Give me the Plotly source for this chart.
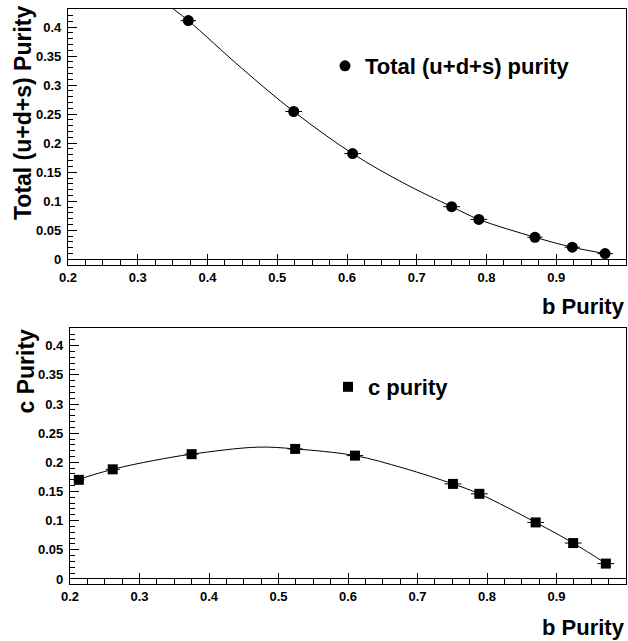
import plotly.graph_objects as go

# ---- data ----
b_pur_top = [0.3725, 0.5236, 0.608, 0.750, 0.789, 0.8695, 0.923, 0.970]
uds_pur = [0.411, 0.2545, 0.182, 0.0906, 0.0687, 0.038, 0.0208, 0.0099]
uds_xerr = [0.011, 0.012, 0.012, 0.012, 0.012, 0.011, 0.011, 0.011]

fit_top_x = [0.351, 0.3725, 0.45, 0.5236, 0.608, 0.68, 0.750, 0.789, 0.8695, 0.923, 0.972]
fit_top_y = [0.431, 0.411, 0.328, 0.2545, 0.182, 0.132, 0.0906, 0.0687, 0.038, 0.0208, 0.0095]

b_pur_bot = [0.2127, 0.2615, 0.375, 0.524, 0.610, 0.751, 0.789, 0.870, 0.924, 0.971]
c_pur = [0.170, 0.188, 0.214, 0.223, 0.2115, 0.163, 0.146, 0.097, 0.0616, 0.0264]
c_xerr = [0.008, 0.010, 0.010, 0.011, 0.012, 0.012, 0.012, 0.012, 0.012, 0.012]

fit_bot_x = [0.2065, 0.2127, 0.2615, 0.32, 0.375, 0.47, 0.524, 0.610, 0.68, 0.751, 0.789, 0.870, 0.924, 0.973]
fit_bot_y = [0.165, 0.170, 0.188, 0.203, 0.214, 0.226, 0.223, 0.2115, 0.19, 0.163, 0.146, 0.097, 0.0616, 0.025]

x_label = "b Purity"
y_label_top = "Total (u+d+s) Purity"
y_label_bot = "c Purity"
legend_top = "Total (u+d+s) purity"
legend_bot = "c purity"

W, H = 628, 641
FONT = "Liberation Sans, Arial, Helvetica, sans-serif"

fig = go.Figure()

fig.add_trace(go.Scatter(x=fit_top_x, y=fit_top_y, mode="lines", line=dict(color="black", width=1, shape="spline"),
                         xaxis="x", yaxis="y", showlegend=False, hoverinfo="skip"))
fig.add_trace(go.Scatter(x=b_pur_top, y=uds_pur, mode="markers", name=legend_top,
                         marker=dict(symbol="circle", size=11, color="black"),
                         error_x=dict(type="data", array=uds_xerr, width=0, thickness=1, color="black"),
                         xaxis="x", yaxis="y", legend="legend"))

fig.add_trace(go.Scatter(x=fit_bot_x, y=fit_bot_y, mode="lines", line=dict(color="black", width=1, shape="spline"),
                         xaxis="x2", yaxis="y2", showlegend=False, hoverinfo="skip"))
fig.add_trace(go.Scatter(x=b_pur_bot, y=c_pur, mode="markers", name=legend_bot,
                         marker=dict(symbol="square", size=10, color="black"),
                         error_x=dict(type="data", array=c_xerr, width=0, thickness=1, color="black"),
                         xaxis="x2", yaxis="y2", legend="legend2"))

tickfont = dict(family=FONT, size=13, color="black", weight="bold")

def xaxis_cfg(domain, anchor):
    return dict(domain=domain, anchor=anchor, range=[0.2, 1.0], dtick=0.1, tick0=0.2,
                ticks="inside", ticklen=11, tickwidth=1, tickcolor="black",
                minor=dict(dtick=0.025, ticks="inside", ticklen=6, tickwidth=1, tickcolor="black", showgrid=False),
                showline=True, linecolor="black", linewidth=1.3, mirror=True,
                showgrid=False, zeroline=False, tickfont=tickfont, automargin=False)

def yaxis_cfg(domain, anchor, rng):
    return dict(domain=domain, anchor=anchor, range=rng, dtick=0.05, tick0=0,
                ticks="inside", ticklen=9, tickwidth=1, tickcolor="black",
                minor=dict(dtick=0.01, ticks="inside", ticklen=5, tickwidth=1, tickcolor="black", showgrid=False),
                showline=True, linecolor="black", linewidth=1.3, mirror=True,
                showgrid=False, zeroline=True, zerolinecolor="black", zerolinewidth=1,
                tickfont=tickfont, automargin=False, ticklabelstandoff=3)

def px_y(p):
    return 1 - p / H

def px_x(p):
    return p / W

legend_font = dict(family=FONT, size=22, color="black", weight="bold")

fig.update_layout(
    width=W, height=H,
    margin=dict(l=0, r=0, t=0, b=0),
    paper_bgcolor="white", plot_bgcolor="white",
    xaxis=xaxis_cfg([px_x(68), px_x(626)], "y"),
    yaxis=yaxis_cfg([px_y(265), px_y(9)], "x", [-0.0098, 0.431]),
    xaxis2=xaxis_cfg([px_x(70), px_x(626)], "y2"),
    yaxis2=yaxis_cfg([px_y(584), px_y(328)], "x2", [-0.0086, 0.4303]),
    legend=dict(x=px_x(325), y=px_y(66), xanchor="left", yanchor="middle",
                font=legend_font, bgcolor="rgba(0,0,0,0)", borderwidth=0),
    legend2=dict(x=px_x(328), y=px_y(387), xanchor="left", yanchor="middle",
                 font=legend_font, bgcolor="rgba(0,0,0,0)", borderwidth=0),
    showlegend=True,
)

title_font = dict(family=FONT, size=22, color="black", weight="bold")
ytitle_font = dict(family=FONT, size=23, color="black", weight="bold")
fig.add_annotation(text=y_label_top, xref="paper", yref="paper", x=px_x(23), y=px_y(4),
                   xanchor="center", yanchor="top", textangle=-90, showarrow=False, font=ytitle_font)
fig.add_annotation(text=y_label_bot, xref="paper", yref="paper", x=px_x(25), y=px_y(327),
                   xanchor="center", yanchor="top", textangle=-90, showarrow=False, font=ytitle_font)
fig.add_annotation(text=x_label, xref="paper", yref="paper", x=px_x(627), y=px_y(306),
                   xanchor="right", yanchor="middle", showarrow=False, font=title_font)
fig.add_annotation(text=x_label, xref="paper", yref="paper", x=px_x(627), y=px_y(627),
                   xanchor="right", yanchor="middle", showarrow=False, font=title_font)

fig.write_html("out.html")
